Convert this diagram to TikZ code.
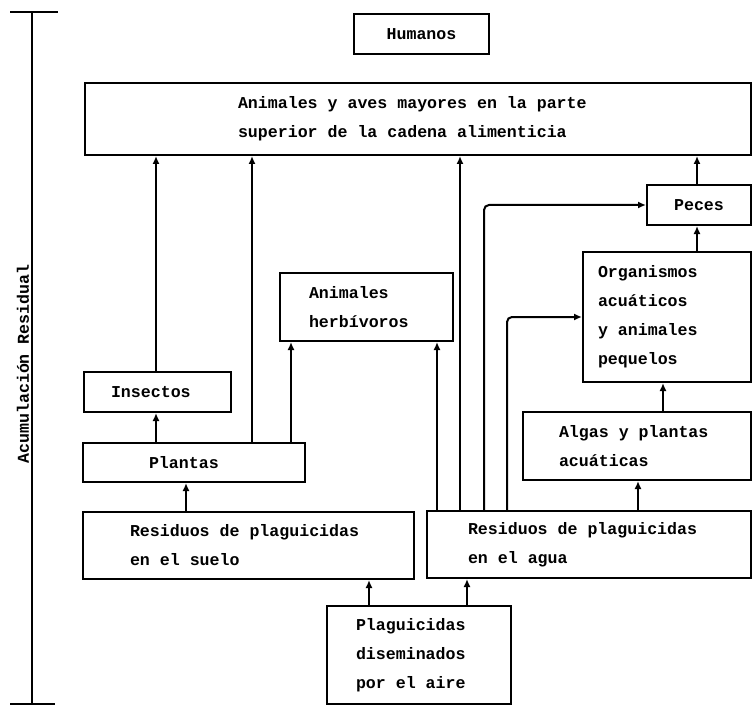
\documentclass[tikz,border=0pt]{standalone}
\usepackage{fontspec}
\setmonofont{Liberation Mono}
\usetikzlibrary{arrows.meta}
\newcommand{\diagfont}{\ttfamily\bfseries\fontsize{16.6}{29}\selectfont}
\newcommand{\fixsp}{\spaceskip=9.96pt\xspaceskip=9.96pt\relax}
\begin{document}
\begin{tikzpicture}[x=1pt,y=-1pt,
  txt/.style={font=\diagfont},
  box/.style={txt, draw, line width=2pt, anchor=north west, align=left, inner ysep=0pt},
  arr/.style={line width=2pt, -{Latex[length=8pt,width=7pt]}},
  axisline/.style={line width=2pt}]
\useasboundingbox (0,0) rectangle (753,706);

% axis
\coordinate (axt) at (32,12);
\coordinate (axb) at (32,704);
\coordinate (tl) at (10,12);
\coordinate (tr) at (58,12);
\coordinate (bl) at (10,704);
\coordinate (br) at (55,704);
\draw[axisline] (axt) -- (axb);
\draw[axisline] (tl) -- (tr);
\draw[axisline] (bl) -- (br);
\node[txt, rotate=90] (lab) at (23,364) {Acumulación Residual};

% boxes
\node[box, align=center, inner xsep=0pt, text width=135pt, minimum height=40pt] (hum) at (353,13) {Humanos};
\node[box, inner xsep=153pt, text width=360pt, minimum height=72pt] (big) at (84,82) {\fixsp Animales y aves mayores en la parte\\superior de la cadena alimenticia};
\node[box, align=center, inner xsep=0pt, text width=104pt, minimum height=40pt] (pec) at (646,184) {Peces};
\node[box, inner xsep=15pt, text width=138pt, minimum height=130pt] (org) at (582,251) {\fixsp Organismos\\acuáticos\\y animales\\pequelos};
\node[box, inner xsep=36pt, text width=156pt, minimum height=68pt] (alg) at (522,411) {\fixsp Algas y plantas\\acuáticas};
\node[box, inner xsep=29pt, text width=115pt, minimum height=68pt] (herb) at (279,272) {Animales\\herbívoros};
\node[box, inner xsep=27pt, text width=93pt, minimum height=40pt] (ins) at (83,371) {Insectos};
\node[box, inner xsep=66pt, text width=90pt, minimum height=39pt] (pla) at (82,442) {Plantas};
\node[box, inner xsep=47pt, text width=237pt, minimum height=67pt] (sue) at (82,511) {\fixsp Residuos de plaguicidas\\en el suelo};
\node[box, inner xsep=41pt, text width=242pt, minimum height=67pt] (agu) at (426,510) {\fixsp Residuos de plaguicidas\\en el agua};
\node[box, inner xsep=29pt, text width=126pt, minimum height=98pt] (plg) at (326,605) {\fixsp Plaguicidas\\diseminados\\por el aire};

% x positions of connectors
\coordinate (c156) at (156,0);
\coordinate (c186) at (186,0);
\coordinate (c252) at (252,0);
\coordinate (c291) at (291,0);
\coordinate (c369) at (369,0);
\coordinate (c437) at (437,0);
\coordinate (c460) at (460,0);
\coordinate (c467) at (467,0);
\coordinate (c484) at (484,0);
\coordinate (c507) at (507,0);
\coordinate (c638) at (638,0);
\coordinate (c663) at (663,0);
\coordinate (c697) at (697,0);

% connectors
\draw[arr] (ins.north -| c156) -- (big.south -| c156);
\draw[arr] (pla.north -| c156) -- (ins.south -| c156);
\draw[arr] (pla.north -| c252) -- (big.south -| c252);
\draw[arr] (pla.north -| c291) -- (herb.south -| c291);
\draw[arr] (sue.north -| c186) -- (pla.south -| c186);
\draw[arr] (agu.north -| c437) -- (herb.south -| c437);
\draw[arr] (agu.north -| c460) -- (big.south -| c460);
\draw[arr, rounded corners=5pt] (agu.north -| c484) |- (pec.west);
\draw[arr, rounded corners=5pt] (agu.north -| c507) |- (org.west);
\draw[arr] (agu.north -| c638) -- (alg.south -| c638);
\draw[arr] (alg.north -| c663) -- (org.south -| c663);
\draw[arr] (org.north -| c697) -- (pec.south -| c697);
\draw[arr] (pec.north -| c697) -- (big.south -| c697);
\draw[arr] (plg.north -| c369) -- (sue.south -| c369);
\draw[arr] (plg.north -| c467) -- (agu.south -| c467);
\end{tikzpicture}
\end{document}
